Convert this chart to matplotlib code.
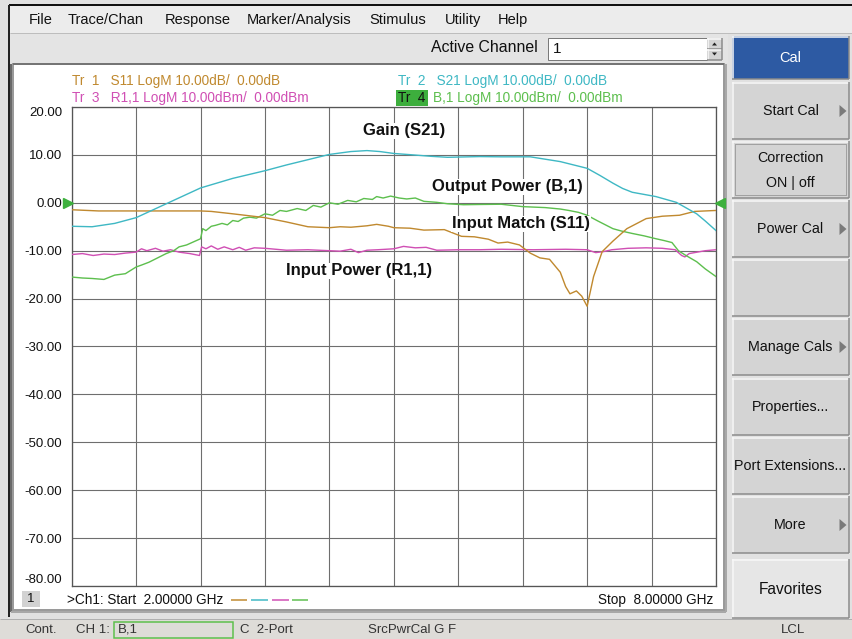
import matplotlib
matplotlib.use('Agg')
import matplotlib.pyplot as plt
from matplotlib.patches import Rectangle, Polygon
import matplotlib.transforms as mtransforms

plt.rcParams['font.family'] = ['Liberation Sans', 'DejaVu Sans']

# ---------------- data ----------------
freq_s11 = [2.0, 2.25, 2.5, 2.8, 3.1, 3.2, 3.3, 3.5, 3.8, 4.0, 4.2, 4.4, 4.5, 4.6,
            4.75, 4.84, 4.95, 5.0, 5.15, 5.28, 5.47, 5.63, 5.75, 5.88, 5.97, 6.06,
            6.17, 6.27, 6.36, 6.45, 6.55, 6.6, 6.64, 6.7, 6.75, 6.8, 6.86, 6.94,
            7.04, 7.17, 7.35, 7.5, 7.66, 7.8, 8.0]
s11 = [-1.45, -1.7, -1.7, -1.7, -1.7, -1.7, -1.8, -2.3, -3.1, -4.0, -5.0, -5.2, -5.0, -5.1,
       -4.8, -4.5, -4.9, -5.2, -5.3, -5.7, -5.6, -7.0, -7.1, -7.6, -8.4, -8.2,
       -8.8, -10.5, -11.5, -11.8, -14.5, -17.5, -19.0, -18.4, -19.5, -21.6, -15.4, -10.2,
       -8.0, -5.4, -3.3, -2.8, -2.6, -1.8, -1.6]

freq_s21 = [2.0, 2.19, 2.4, 2.6, 2.9, 3.2, 3.5, 3.8, 4.0, 4.2, 4.4, 4.6, 4.75, 4.87,
            5.0, 5.18, 5.35, 5.5, 5.8, 6.0, 6.27, 6.55, 6.8, 6.92, 7.04, 7.13, 7.22,
            7.44, 7.63, 7.82, 7.9, 8.0]
s21 = [-4.9, -5.0, -4.3, -3.1, 0.0, 3.1, 5.1, 6.7, 7.9, 9.0, 10.1, 10.7, 10.9, 10.7,
       10.3, 10.0, 9.7, 9.5, 9.65, 9.6, 9.6, 8.6, 7.2, 5.7, 4.1, 3.0, 2.2,
       1.3, 0.1, -2.3, -3.8, -5.8]

freq_r11 = [2.0, 2.1, 2.2, 2.3, 2.4, 2.5, 2.6, 2.65, 2.7, 2.78, 2.85, 2.92, 3.0, 3.1,
            3.19, 3.21, 3.25, 3.3, 3.36, 3.42, 3.5, 3.56, 3.62, 3.7, 3.8, 3.9, 4.0,
            4.2, 4.4, 4.5, 4.6, 4.67, 4.75, 4.85, 5.0, 5.09, 5.2, 5.3, 5.4, 5.6, 5.8,
            6.0, 6.3, 6.6, 6.8, 6.88, 6.95, 7.03, 7.18, 7.35, 7.5, 7.62, 7.68, 7.71,
            7.75, 7.8, 7.9, 8.0]
r11 = [-10.8, -10.6, -11.0, -10.7, -10.8, -10.5, -10.3, -9.6, -10.0, -9.5, -10.1, -9.8, -10.3, -10.6,
       -11.0, -9.2, -9.6, -9.0, -9.7, -9.2, -9.8, -9.3, -9.9, -9.4, -9.5, -9.7, -9.9,
       -9.8, -10.0, -10.1, -9.7, -10.4, -9.9, -9.8, -9.6, -9.1, -9.4, -9.3, -9.9, -9.8, -9.8,
       -9.7, -9.8, -9.7, -9.8, -10.4, -10.2, -9.8, -9.5, -9.4, -9.5, -9.8, -11.0, -11.3,
       -10.6, -10.4, -10.0, -9.8]

freq_b1 = [2.0, 2.1, 2.19, 2.3, 2.4, 2.5, 2.6, 2.65, 2.72, 2.8, 2.88, 2.95, 3.0, 3.07,
           3.13, 3.2, 3.22, 3.25, 3.3, 3.34, 3.4, 3.45, 3.5, 3.55, 3.6, 3.66, 3.72,
           3.8, 3.87, 3.94, 4.0, 4.1, 4.18, 4.25, 4.32, 4.4, 4.48, 4.57, 4.65, 4.72,
           4.8, 4.84, 4.9, 4.97, 5.05, 5.12, 5.2, 5.28, 5.4, 5.5, 5.65, 5.8, 6.0,
           6.2, 6.41, 6.55, 6.63, 6.72, 6.8, 6.9, 7.04, 7.12, 7.22, 7.33, 7.44,
           7.52, 7.59, 7.65, 7.72, 7.82, 7.9, 8.0]
b1 = [-15.5, -15.7, -15.8, -16.0, -15.1, -14.8, -13.4, -13.0, -12.4, -11.5, -10.6, -10.0, -9.2, -8.8,
      -8.2, -7.5, -5.4, -5.8, -4.9, -4.7, -4.3, -4.6, -3.7, -3.9, -3.2, -3.0, -3.2,
      -2.3, -2.6, -1.6, -1.8, -1.2, -1.6, -0.55, -0.9, 0.0, -0.3, 0.5, 0.2, 0.9,
      0.7, 1.3, 1.0, 1.4, 1.0, 0.8, 1.0, 0.3, 0.1, -0.2, -0.4, -0.35, -0.3,
      -0.8, -1.0, -1.3, -1.6, -2.0, -2.6, -3.8, -5.4, -5.9, -6.4, -6.9, -7.5,
      -7.9, -8.3, -10.0, -11.0, -12.3, -13.8, -15.4]

y_ticks = [20, 10, 0, -10, -20, -30, -40, -50, -60, -70, -80]
x_grid = [2.0, 2.6, 3.2, 3.8, 4.4, 5.0, 5.6, 6.2, 6.8, 7.4, 8.0]

menu_items = ["File", "Trace/Chan", "Response", "Marker/Analysis", "Stimulus", "Utility", "Help"]
softkeys = ["Start Cal", "Correction\nON | off", "Power Cal", "", "Manage Cals",
            "Properties...", "Port Extensions...", "More"]
softkey_arrow = [True, False, True, False, True, False, False, True]

C_S11 = '#c0892f'
C_S21 = '#3fb8c4'
C_R11 = '#d04fb4'
C_B1 = '#5dbf4e'

# ---------------- figure / UI chrome ----------------
W, H = 852, 639
fig = plt.figure(figsize=(W / 100, H / 100), dpi=100)
fig.patch.set_facecolor('#e1e1e1')

bg = fig.add_axes([0, 0, 1, 1])
bg.set_xlim(0, W)
bg.set_ylim(H, 0)
bg.axis('off')

PX = 0.72  # one pixel in points


def rect(x0, y0, x1, y1, fc, ec='none', lw=1, z=1, ls='-'):
    bg.add_patch(Rectangle((x0, y0), x1 - x0, y1 - y0, facecolor=fc, edgecolor=ec,
                           linewidth=lw * PX, zorder=z, linestyle=ls))


def hline(x0, x1, y, c, lw=1, z=2):
    bg.plot([x0, x1], [y, y], color=c, lw=lw * PX, zorder=z, solid_capstyle='butt')


def vline(x, y0, y1, c, lw=1, z=2):
    bg.plot([x, x], [y0, y1], color=c, lw=lw * PX, zorder=z, solid_capstyle='butt')


def button(x0, y0, x1, y1, fc='#d4d4d4'):
    rect(x0, y0, x1, y1, fc, z=2)
    hline(x0, x1, y0 + 0.5, '#f8f8f8', 1.5, 3)
    vline(x0 + 0.5, y0, y1, '#f8f8f8', 1.5, 3)
    hline(x0, x1, y1 - 0.5, '#8a8a8a', 1.5, 3)
    vline(x1 - 0.5, y0, y1, '#8a8a8a', 1.5, 3)


def arrow(x, y):
    bg.add_patch(Polygon([[x - 3.5, y - 6], [x - 3.5, y + 6], [x + 3.5, y]], closed=True,
                         facecolor='#7a7a7a', edgecolor='none', zorder=4))


# outer frame
hline(9, W, 5, '#111111', 2, 5)
vline(9, 5, 617, '#222222', 2, 5)

# menu bar
rect(10, 6, W, 33, '#ececec')
hline(10, W, 33, '#bdbdbd', 1)
menu_x = [29, 68, 165, 247, 369, 445, 498]
for mx, item in zip(menu_x, menu_items):
    bg.text(mx, 20, item, fontsize=10.5, va='center', ha='left', color='#111111', zorder=6)

# toolbar row
rect(10, 34, 728, 63, '#e4e4e4')
bg.text(538, 48, "Active Channel", fontsize=11.4, ha='right', va='center', color='#111111')
rect(548, 38, 707, 60, 'white', ec='#7a7a7a', lw=1, z=3)
bg.text(553, 49, "1", fontsize=11, ha='left', va='center', color='#111111', zorder=4)
button(707, 38, 722, 49)
button(707, 49, 722, 60)
bg.add_patch(Polygon([[712, 45.5], [717, 45.5], [714.5, 42.5]], facecolor='#222', edgecolor='none', zorder=5))
bg.add_patch(Polygon([[712, 52.5], [717, 52.5], [714.5, 55.5]], facecolor='#222', edgecolor='none', zorder=5))

# chart panel
rect(13, 64, 724, 610, 'white', ec='#9a9a9a', lw=2, z=1)
vline(11, 64, 612, '#6a6a6a', 2, 2)
hline(13, 724, 64, '#6a6a6a', 1.5, 2)
hline(11, 726, 612, '#a8a8a8', 2, 2)
vline(726, 64, 612, '#a8a8a8', 2, 2)

# right softkey panel
button(732, 36, 849, 79, fc='#2d5aa3')
bg.text(790.5, 57.5, "Cal", fontsize=10.5, color='white', ha='center', va='center', zorder=5)
key_tops = [82, 141, 200, 259, 318, 378, 437, 496]
for top, lab, arr in zip(key_tops, softkeys, softkey_arrow):
    button(732, top, 849, top + 57)
    if lab:
        if '\n' in lab:
            l1, l2 = lab.split('\n')
            bg.text(790.5, top + 17, l1, fontsize=10.3, ha='center', va='center', color='#111', zorder=5)
            bg.text(790.5, top + 42, l2, fontsize=10.3, ha='center', va='center', color='#111', zorder=5)
            rect(735, top + 3, 846, top + 54, 'none', ec='#707070', lw=1, z=4, ls=(0, (1, 1)))
        else:
            bg.text(790.5, top + 29, lab, fontsize=10.3, ha='center', va='center', color='#111', zorder=5)
    if arr:
        arrow(843, top + 29)
button(732, 559, 849, 618, fc='#e6e6e6')
bg.text(790.5, 589, "Favorites", fontsize=11.2, ha='center', va='center', color='#111', zorder=5)

# status bar
rect(0, 619, W, H, '#dedcd8', z=2)
hline(0, W, 619, '#b0b0b0', 1, 3)
bg.text(25, 630, "Cont.", fontsize=9.5, va='center', ha='left', color='#333', zorder=5)
bg.text(76, 630, "CH 1:", fontsize=9.5, va='center', ha='left', color='#333', zorder=5)
rect(114, 622, 233, 638, 'none', ec='#5cc04a', lw=1.5, z=5)
bg.text(118, 630, "B,1", fontsize=9.5, va='center', ha='left', color='#333', zorder=5)
bg.text(240, 630, "C  2-Port", fontsize=9.5, va='center', ha='left', color='#333', zorder=5)
bg.text(368, 630, "SrcPwrCal G F", fontsize=9.5, va='center', ha='left', color='#333', zorder=5)
bg.text(793, 630, "LCL", fontsize=9.5, va='center', ha='center', color='#333', zorder=5)

# trace header
bg.text(72, 81, "Tr  1   S11 LogM 10.00dB/  0.00dB", fontsize=9.8, color=C_S11, va='center', zorder=5)
bg.text(72, 98, "Tr  3   R1,1 LogM 10.00dBm/  0.00dBm", fontsize=9.8, color=C_R11, va='center', zorder=5)
bg.text(398, 81, "Tr  2   S21 LogM 10.00dB/  0.00dB", fontsize=9.8, color=C_S21, va='center', zorder=5)
rect(396, 90, 428, 106, '#3dae3d', z=4)
bg.text(398, 98, "Tr  4", fontsize=9.8, color='#111', va='center', zorder=5)
bg.text(433, 98, "B,1 LogM 10.00dBm/  0.00dBm", fontsize=9.8, color=C_B1, va='center', zorder=5)

# footer inside chart panel
rect(22, 591, 40, 607, '#d2d2d2', z=4)
bg.text(31, 599, "1", fontsize=9.5, ha='center', va='center', color='#111', zorder=5)
bg.text(67, 600, ">Ch1: Start  2.00000 GHz", fontsize=9.8, ha='left', va='center', color='#111', zorder=5)
for (xa, xb), c in zip([(231, 247), (251, 268), (272, 289), (292, 308)], [C_S11, C_S21, C_R11, C_B1]):
    hline(xa, xb, 600, c, 1.5, 5)
bg.text(713, 600, "Stop  8.00000 GHz", fontsize=9.8, ha='right', va='center', color='#111', zorder=5)

# ---------------- data axes ----------------
x0p, x1p, y0p, y1p = 71.7, 716.0, 107.0, 586.0
ax = fig.add_axes([x0p / W, 1 - y1p / H, (x1p - x0p) / W, (y1p - y0p) / H])
ax.set_facecolor('white')
ax.set_xlim(2, 8)
ax.set_ylim(-80, 20)
ax.set_xticks(x_grid)
ax.set_yticks(y_ticks)
ax.set_yticklabels([f"{v:.2f}" for v in y_ticks])
ax.tick_params(length=0, labelbottom=False, labelsize=9.5, pad=7, colors='#111')
labels = ax.get_yticklabels()
labels[0].set_va('top')
labels[-1].set_va('bottom')
ax.grid(True, color='#6e6e6e', lw=1.1 * PX)
for s in ax.spines.values():
    s.set_color('#555555')
    s.set_linewidth(1.3 * PX)

lw = 1.4 * PX
ax.plot(freq_r11, r11, color=C_R11, lw=lw, zorder=3)
ax.plot(freq_b1, b1, color=C_B1, lw=lw, zorder=3)
ax.plot(freq_s11, s11, color=C_S11, lw=lw, zorder=4)
ax.plot(freq_s21, s21, color=C_S21, lw=lw, zorder=4)

# reference-level markers
tr = mtransforms.blended_transform_factory(ax.transAxes, ax.transData)
ax.plot([-0.006], [0], marker='>', ms=7, color='#3db03d', transform=tr, clip_on=False, zorder=6)
ax.plot([1.006], [0], marker='<', ms=7, color='#3db03d', transform=tr, clip_on=False, zorder=6)

# trace annotations
ann = dict(fontsize=12, fontweight='bold', color='#111', ha='left', va='center', zorder=7,
           bbox=dict(facecolor='white', edgecolor='none', pad=0.5))
ax.text(4.71, 15.0, "Gain (S21)", **ann)
ax.text(5.355, 3.33, "Output Power (B,1)", **ann)
ax.text(5.54, -4.4, "Input Match (S11)", **ann)
ax.text(3.995, -14.2, "Input Power (R1,1)", **ann)

fig.savefig('out.png', dpi=100, facecolor=fig.get_facecolor())
